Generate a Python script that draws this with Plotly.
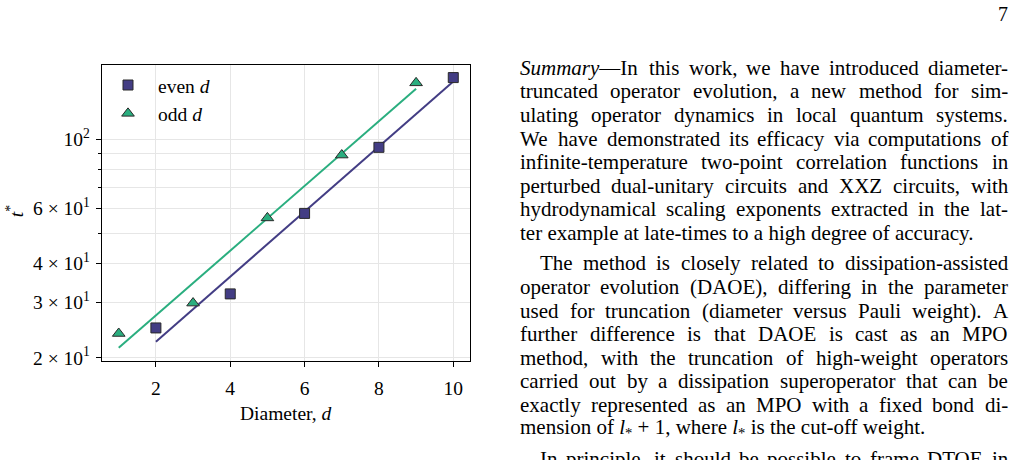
import plotly.graph_objects as go

# ---------------- data ----------------
d_even = [2, 4, 6, 8, 10]
t_even = [24.9, 32.0, 57.9, 94.2, 157.5]
d_odd = [1, 3, 5, 7, 9]
t_odd = [23.9, 29.9, 56.0, 89.0, 151.5]

fit_even_d = [2, 10]
fit_even_t = [22.5, 153.0]
fit_odd_d = [1, 9]
fit_odd_t = [21.5, 145.0]

x_ticks = [2, 4, 6, 8, 10]
y_major = [20, 30, 40, 60, 100]
SP = "\u2005"
y_major_text = [f"2{SP}×{SP}10<sup>1</sup>", f"3{SP}×{SP}10<sup>1</sup>",
                f"4{SP}×{SP}10<sup>1</sup>", f"6{SP}×{SP}10<sup>1</sup>",
                "10<sup>2</sup>"]
y_minor = [50, 70, 80, 90]

para1 = [
    "Summary—In this work, we have introduced diameter-",
    "truncated operator evolution, a new method for sim-",
    "ulating operator dynamics in local quantum systems.",
    "We have demonstrated its efficacy via computations of",
    "infinite-temperature two-point correlation functions in",
    "perturbed dual-unitary circuits and XXZ circuits, with",
    "hydrodynamical scaling exponents extracted in the lat-",
    "ter example at late-times to a high degree of accuracy.",
]
para2 = [
    "The method is closely related to dissipation-assisted",
    "operator evolution (DAOE), differing in the parameter",
    "used for truncation (diameter versus Pauli weight). A",
    "further difference is that DAOE is cast as an MPO",
    "method, with the truncation of high-weight operators",
    "carried out by a dissipation superoperator that can be",
    "exactly represented as an MPO with a fixed bond di-",
    "mension of l* + 1, where l* is the cut-off weight.",
]
para3 = ["In principle, it should be possible to frame DTOE in"]

# ---------------- styling ----------------
W, H = 1016, 460
PURPLE = "#433d84"
GREEN = "#2aae7f"
SERIF = "Liberation Serif"
FIGFS = 19.5


def px(x):
    return x / W


def py(y):
    return 1 - y / H


fig = go.Figure()

fig.add_trace(go.Scatter(x=fit_odd_d, y=fit_odd_t, mode="lines",
                         line=dict(color=GREEN, width=2), showlegend=False))
fig.add_trace(go.Scatter(x=fit_even_d, y=fit_even_t, mode="lines",
                         line=dict(color=PURPLE, width=2), showlegend=False))
fig.add_trace(go.Scatter(x=d_even, y=t_even, mode="markers", name="even <i>d</i>",
                         marker=dict(symbol="square", size=10, color=PURPLE,
                                     line=dict(color="#2a2a2a", width=1))))
fig.add_trace(go.Scatter(x=d_odd, y=t_odd, mode="markers", name="odd <i>d</i>",
                         marker=dict(symbol="triangle-up", size=11, color=GREEN,
                                     line=dict(color="#2a2a2a", width=1))))

GRID = "#e6e6e6"
fig.update_layout(
    width=W, height=H,
    margin=dict(l=0, r=0, t=0, b=0),
    paper_bgcolor="white", plot_bgcolor="white",
    font=dict(family=SERIF, size=FIGFS, color="black"),
    xaxis=dict(domain=[px(102), px(470)], range=[0.55, 10.45],
               tickvals=x_ticks, ticks="outside", ticklen=5, tickwidth=1.2,
               tickcolor="black", showgrid=True, gridcolor=GRID, gridwidth=1,
               showline=True, mirror=True, linecolor="black", linewidth=1.4,
               zeroline=False, tickfont=dict(family=SERIF, size=FIGFS),
               ticklabelstandoff=5),
    yaxis=dict(domain=[py(367), py(66)], type="log",
               range=[1.2916, 2.238],
               tickvals=y_major, ticktext=y_major_text,
               ticks="outside", ticklen=5, tickwidth=1.2, tickcolor="black",
               showgrid=True, gridcolor=GRID, gridwidth=1,
               showline=True, mirror=True, linecolor="black", linewidth=1.4,
               zeroline=False, tickfont=dict(family=SERIF, size=FIGFS),
               ticklabelstandoff=2,
               minor=dict(tickvals=y_minor, ticks="outside", ticklen=3,
                          tickwidth=1, tickcolor="black", showgrid=True,
                          gridcolor=GRID, gridwidth=1)),
    legend=dict(x=px(98), y=py(67), xanchor="left", yanchor="top",
                bgcolor="rgba(0,0,0,0)", borderwidth=0, itemwidth=50,
                font=dict(family=SERIF, size=FIGFS)),
    showlegend=True,
)

# axis titles
fig.add_annotation(x=px(286), y=py(421), xref="paper", yref="paper",
                   text="Diameter, <i>d</i>", showarrow=False,
                   font=dict(family=SERIF, size=FIGFS), xanchor="center", yanchor="middle")
fig.add_annotation(x=px(15), y=py(215), xref="paper", yref="paper",
                   text="<i>t</i><sup>*</sup>", showarrow=False, textangle=-90,
                   font=dict(family=SERIF, size=FIGFS), xanchor="center", yanchor="middle")

# page number
fig.add_annotation(x=px(1003), y=py(14), xref="paper", yref="paper", text="7",
                   showarrow=False, font=dict(family=SERIF, size=20),
                   xanchor="center", yanchor="middle")

# ---------------- body text, justified using Times metrics ----------------
TW = {" ": 250, "!": 333, "(": 333, ")": 333, "*": 500, "+": 564, ",": 250,
      "-": 333, ".": 250, ":": 278, ";": 278, "—": 1000}
for c in "0123456789":
    TW[c] = 500
upper = dict(A=722, B=667, C=667, D=722, E=611, F=556, G=722, H=722, I=333, J=389,
             K=722, L=611, M=889, N=722, O=722, P=556, Q=722, R=667, S=556, T=611,
             U=722, V=722, W=944, X=722, Y=722, Z=611)
lower = dict(a=444, b=500, c=444, d=500, e=444, f=333, g=500, h=500, i=278, j=278,
             k=500, l=278, m=778, n=500, o=500, p=500, q=500, r=333, s=389, t=278,
             u=500, v=500, w=722, x=500, y=500, z=444)
TW.update(upper)
TW.update(lower)

FS = 21
LEFT, RIGHT = 520, 1008
INDENT = 20
LINE = 24


def wwidth(s):
    return sum(TW.get(c, 500) for c in s) / 1000 * FS


def render(word):
    w = word.replace("Summary", "<i>Summary</i>")
    if w.startswith("l*"):
        w = "<i>l</i><sub>*</sub>" + w[2:]
    return w


def put(x, y, text):
    fig.add_annotation(x=px(x), y=py(y), xref="paper", yref="paper", text=text,
                       showarrow=False, xanchor="left", yanchor="middle",
                       borderpad=0, borderwidth=0,
                       font=dict(family=SERIF, size=FS, color="black"))


def paragraph(lines, y0, indent, last_natural=True):
    for i, line in enumerate(lines):
        y = y0 + LINE * i
        x0 = LEFT + (indent if i == 0 else 0)
        words = line.split()
        is_last = last_natural and i == len(lines) - 1
        if is_last:
            put(x0, y, " ".join(render(w) for w in words))
            continue
        widths = [wwidth(w) for w in words]
        gap = (RIGHT - x0 - sum(widths)) / max(len(words) - 1, 1)
        x = x0
        for w, wd in zip(words, widths):
            put(x, y, render(w))
            x += wd + gap


paragraph(para1, 69, 0)
paragraph(para2, 268, INDENT)
paragraph(para3, 467, INDENT, last_natural=False)

fig.write_html("out.html")
